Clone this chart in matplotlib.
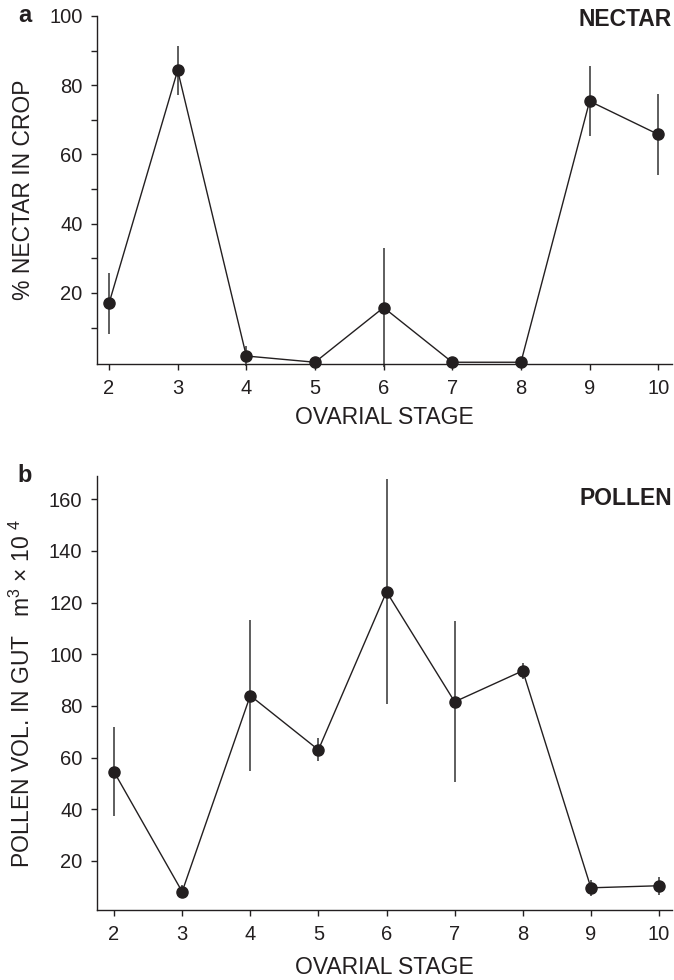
import matplotlib
matplotlib.use("Agg")
import matplotlib.pyplot as plt
from matplotlib.ticker import MultipleLocator

plt.rcParams['font.family'] = ['Liberation Sans', 'DejaVu Sans']
plt.rcParams['mathtext.fontset'] = 'custom'
plt.rcParams['mathtext.rm'] = 'Liberation Sans'
plt.rcParams['mathtext.it'] = 'Liberation Sans'
plt.rcParams['mathtext.default'] = 'rm'

stage = [2, 3, 4, 5, 6, 7, 8, 9, 10]

nectar = [17, 84.3, 1.8, 0, 15.8, 0, 0, 75.4, 65.8]
nectar_err = [8.7, 7.1, 2.8, 0, 17.3, 0, 0, 10.1, 11.7]

pollen = [54.5, 8.1, 84, 63, 124.2, 81.6, 93.6, 9.6, 10.4]
pollen_err = [17.2, 2.4, 29.2, 4.5, 43.5, 31.2, 3.0, 3.0, 3.4]

ink = '#231f20'

fig = plt.figure(figsize=(6.74, 9.8), dpi=100)
ax1 = fig.add_axes([0.1439, 0.6286, 0.8531, 0.3551])
ax2 = fig.add_axes([0.1439, 0.0714, 0.8531, 0.4429])

def style(ax):
    for s in ['top', 'right']:
        ax.spines[s].set_visible(False)
    for s in ['left', 'bottom']:
        ax.spines[s].set_linewidth(1.0)
        ax.spines[s].set_color(ink)
    ax.tick_params(which='both', direction='out', length=4.5, width=1.0,
                   color=ink, labelcolor=ink, labelsize=14.5, pad=6)
    ax.set_xticks(stage)

def draw(ax, y, err):
    ax.errorbar(stage, y, yerr=err, fmt='none', ecolor='#333333',
                elinewidth=1.1, capsize=0, clip_on=False)
    ax.plot(stage, y, '-o', color=ink, lw=1.0, ms=8, clip_on=False, zorder=3)

# panel a
style(ax1)
draw(ax1, nectar, nectar_err)
ax1.set_xlim(1.825, 10.2)
ax1.set_ylim(-0.5, 100)
ax1.set_yticks([20, 40, 60, 80, 100])
ax1.set_yticks([10, 30, 50, 70, 90], minor=True)
ax1.set_ylabel('% NECTAR IN CROP', fontsize=16.5, color=ink)
ax1.yaxis.set_label_coords(-0.108, 0.5)
fig.text(0.5705, 1 - 417 / 980, 'OVARIAL STAGE', ha='center', va='center',
         fontsize=16.5, color=ink)
fig.text(25 / 674, 1 - 15 / 980, 'a', ha='center', va='center',
         fontsize=17, fontweight='bold', color=ink)
fig.text(672 / 674, 1 - 20 / 980, 'NECTAR', ha='right', va='center',
         fontsize=16.5, fontweight='bold', color=ink)

# panel b
style(ax2)
draw(ax2, pollen, pollen_err)
ax2.set_xlim(1.75, 10.19)
ax2.set_ylim(1, 169)
ax2.set_yticks([20, 40, 60, 80, 100, 120, 140, 160])
ax2.set_ylabel(r'POLLEN VOL. IN GUT   m$^3$ $\times$ 10 $^4$', fontsize=16.5, color=ink)
ax2.yaxis.set_label_coords(-0.108, 0.5)
fig.text(0.5705, 1 - 967 / 980, 'OVARIAL STAGE', ha='center', va='center',
         fontsize=16.5, color=ink)
fig.text(25 / 674, 1 - 475 / 980, 'b', ha='center', va='center',
         fontsize=17, fontweight='bold', color=ink)
fig.text(672 / 674, 1 - 498 / 980, 'POLLEN', ha='right', va='center',
         fontsize=16.5, fontweight='bold', color=ink)

fig.savefig('out.png', dpi=100)
